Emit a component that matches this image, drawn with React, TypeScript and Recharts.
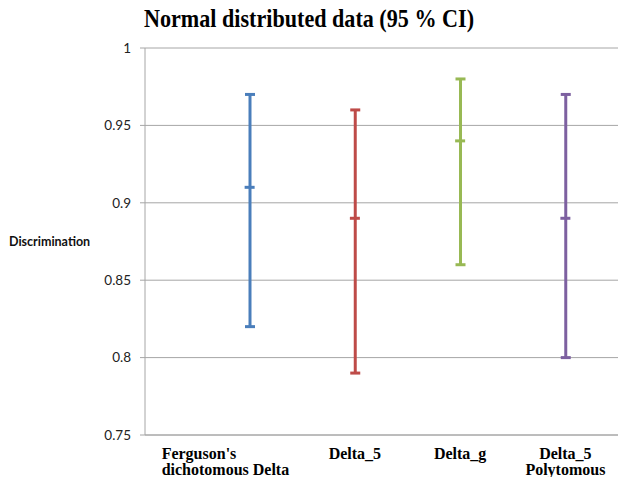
import React from 'react';
import { Bar, CartesianGrid, ComposedChart, Scatter, XAxis, YAxis } from 'recharts';

const categories = ["Ferguson's dichotomous Delta", 'Delta_5', 'Delta_g', 'Delta_5 Polytomous'];
const tickLines = [["Ferguson's", 'dichotomous Delta'], ['Delta_5'], ['Delta_g'], ['Delta_5', 'Polytomous']];
const lowValues = [0.82, 0.79, 0.86, 0.8];
const meanValues = [0.91, 0.89, 0.94, 0.89];
const highValues = [0.97, 0.96, 0.98, 0.97];
const yTicks = [0.75, 0.8, 0.85, 0.9, 0.95, 1];

const COLORS = ['#4A7EBB', '#BE4B48', '#98B954', '#7D60A0'];
const GRID = '#A6A6A6';

const rows = categories.map((name, i) => ({
  name,
  range: [lowValues[i], highValues[i]],
  mean: meanValues[i],
}));

function colorFor(name: string) {
  return COLORS[categories.indexOf(name)] ?? '#333';
}

// vertical whisker with caps, drawn from the range bar's box
function RangeShape(props: any) {
  const { x, y, width, height, payload } = props;
  const c = colorFor(payload.name);
  const cx = x + width / 2;
  return (
    <g>
      <line x1={cx} x2={cx} y1={y} y2={y + height} stroke={c} strokeWidth={3} />
      <line x1={cx - 5} x2={cx + 5} y1={y} y2={y} stroke={c} strokeWidth={3} />
      <line x1={cx - 5} x2={cx + 5} y1={y + height} y2={y + height} stroke={c} strokeWidth={3} />
    </g>
  );
}

function MeanShape(props: any) {
  const { cx, cy, payload } = props;
  const c = colorFor(payload.name);
  return <line x1={cx - 5} x2={cx + 5} y1={cy} y2={cy} stroke={c} strokeWidth={3} />;
}

function CategoryTick(props: any) {
  const { x, y, payload } = props;
  const idx = categories.indexOf(payload.value);
  const lines = tickLines[idx] ?? [payload.value];
  const first = idx === 0;
  const tx = first ? x - 88 : x;
  return (
    <text
      x={tx}
      y={y + 16}
      textAnchor={first ? 'start' : 'middle'}
      fontFamily='"Liberation Serif", serif'
      fontWeight="bold"
      fontSize={16}
      fill="#000"
    >
      {lines.map((l, i) => (
        <tspan key={i} x={tx} dy={i === 0 ? 0 : 16}>
          {l}
        </tspan>
      ))}
    </text>
  );
}

export default function App() {
  return (
    <div style={{ position: 'absolute', left: 0, top: 0, width: 618, height: 477, background: '#fff' }}>
      <div
        style={{
          position: 'absolute',
          top: 5,
          left: 0,
          width: 618,
          textAlign: 'center',
          fontFamily: '"Liberation Serif", serif',
          fontWeight: 'bold',
          fontSize: 25,
          color: '#000',
          transform: 'scaleX(0.885)',
          transformOrigin: '309px 0',
        }}
      >
        Normal distributed data (95 % CI)
      </div>
      <div
        style={{
          position: 'absolute',
          top: 234,
          left: 9,
          fontFamily: 'Lato, sans-serif',
          fontWeight: 'bold',
          fontSize: 12.5,
          color: '#111',
        }}
      >
        Discrimination
      </div>
      <ComposedChart width={618} height={477} data={rows} margin={{ top: 48, right: 0, left: 0, bottom: 0 }}>
        <CartesianGrid vertical={false} stroke={GRID} />
        <XAxis
          dataKey="name"
          type="category"
          height={42}
          padding={{ left: 52, right: 0 }}
          tickLine={false}
          axisLine={{ stroke: GRID }}
          tick={<CategoryTick />}
          interval={0}
        />
        <YAxis
          type="number"
          width={145}
          domain={[0.75, 1]}
          ticks={yTicks}
          tickFormatter={(v: number) => String(v)}
          tickSize={5}
          tickMargin={9}
          tickLine={{ stroke: GRID }}
          axisLine={{ stroke: GRID }}
          tick={{ fill: '#222', fontSize: 13.5, fontFamily: 'Lato, sans-serif' }}
        />
        <Bar dataKey="range" barSize={10} shape={<RangeShape />} isAnimationActive={false} />
        <Scatter dataKey="mean" shape={<MeanShape />} isAnimationActive={false} />
      </ComposedChart>
    </div>
  );
}
